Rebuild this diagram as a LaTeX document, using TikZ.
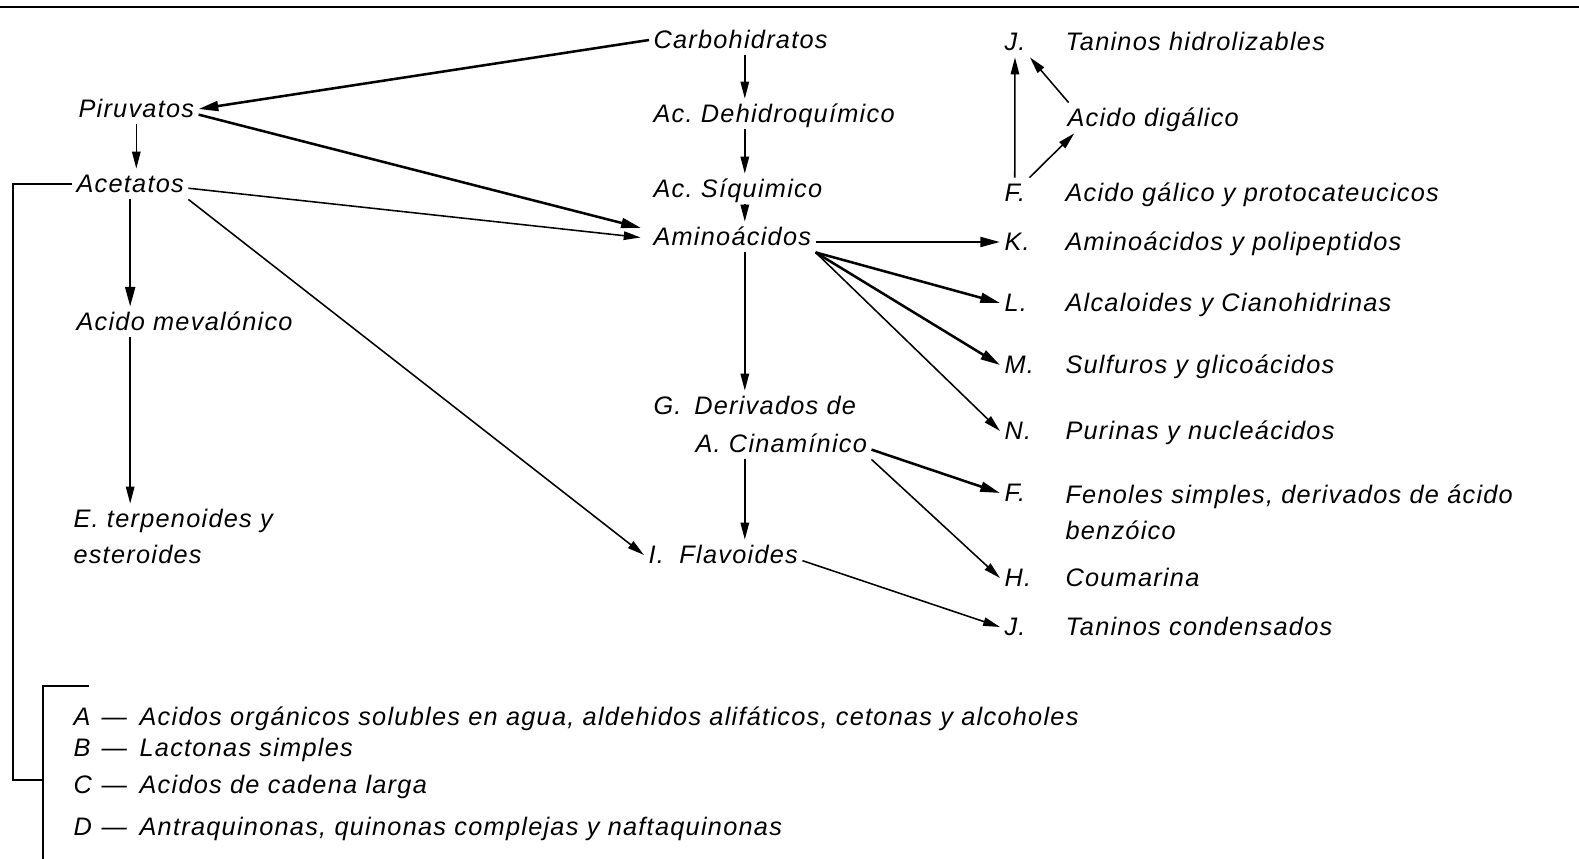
\documentclass[tikz,border=0pt]{standalone}
\usepackage{fontspec}
\setmainfont{Liberation Sans}[LetterSpace=5]
\usetikzlibrary{positioning,arrows.meta}
\tikzset{
  flowarrow/.style={-{Triangle[length=14pt,width=7pt]}, line width=1.8pt},
  thinarrow/.style={-{Triangle[length=12pt,width=6pt]}, line width=1.1pt},
  compnode/.style={anchor=west, inner xsep=3pt, inner ysep=2pt, text height=14.5pt, text depth=3pt},
  letternode/.style={compnode},
  bracketline/.style={line width=1.4pt}
}

\begin{document}
\begin{tikzpicture}[x=0.025cm, y=-0.025cm, every node/.style={font=\fontsize{18}{21}\selectfont\itshape}]
  \useasboundingbox (0,0) rectangle (1579,859);
  \coordinate (ruleL) at (0,7);
  \coordinate (ruleR) at (1579,7);
  \draw[line width=1.5pt] (ruleL) -- (ruleR);

  % left column
  \node[compnode] (carb) at (649,40) {Carbohidratos};
  \node[compnode] (piru) at (74,109) {Piruvatos};
  \node[compnode] (acet) at (72,184) {Acetatos};
  \node[compnode] (mev) at (72,322) {Acido mevalónico};
  \node[compnode] (terp) at (69,519) {E.\ terpenoides y};
  \node[compnode] (ester) at (69,555) {esteroides};

  % middle column
  \node[compnode] (dehi) at (649,114) {Ac.\ Dehidroquímico};
  \node[compnode] (siqu) at (649,189) {Ac.\ Síquimico};
  \node[compnode] (amin) at (649,237) {Aminoácidos};
  \node[compnode] (deriv) at (649,406) {\makebox[29pt][l]{G.}Derivados de};
  \node[compnode] (cina) at (691,444) {A.\ Cinamínico};
  \node[compnode] (flav) at (644,555) {\makebox[22pt][l]{I.}Flavoides};
  \coordinate (midcol) at ([xshift=3pt]carb.south);

  % right column, letters
  \node[letternode] (jJa) at (1000,42) {J.};
  \node[letternode] (fFa) at (1000,193) {F.};
  \node[letternode] (kK) at (1000,242) {K.};
  \node[letternode] (lL) at (1000,303) {L.};
  \node[letternode] (mM) at (1000,365) {M.};
  \node[letternode] (nN) at (1000,431) {N.};
  \node[letternode] (fFb) at (1000,493) {F.};
  \node[letternode] (hH) at (1000,578) {H.};
  \node[letternode] (jJb) at (1000,627) {J.};

  % right column, texts
  \node[compnode] (tanh) at (1061,42) {Taninos hidrolizables};
  \node[compnode] (digal) at (1063,118) {Acido digálico};
  \node[compnode] (galic) at (1061,193) {Acido gálico y protocateucicos};
  \node[compnode] (amipol) at (1061,242) {Aminoácidos y polipeptidos};
  \node[compnode] (alcal) at (1061,303) {Alcaloides y Cianohidrinas};
  \node[compnode] (sulf) at (1061,365) {Sulfuros y glicoácidos};
  \node[compnode] (purin) at (1061,431) {Purinas y nucleácidos};
  \node[compnode] (fenol) at (1061,495) {Fenoles simples, derivados de ácido};
  \node[compnode] (benz) at (1061,531) {benzóico};
  \node[compnode] (couma) at (1061,578) {Coumarina};
  \node[compnode] (tanc) at (1061,627) {Taninos condensados};

  % legend
  \node[compnode] (legA) at (69,717) {\makebox[20pt][l]{A}---\hspace{9pt}Acidos orgánicos solubles en agua, aldehidos alifáticos, cetonas y alcoholes};
  \node[compnode] (legB) at (69,748) {\makebox[20pt][l]{B}---\hspace{9pt}Lactonas simples};
  \node[compnode] (legC) at (69,785) {\makebox[20pt][l]{C}---\hspace{9pt}Acidos de cadena larga};
  \node[compnode] (legD) at (69,827) {\makebox[20pt][l]{D}---\hspace{9pt}Antraquinonas, quinonas complejas y naftaquinonas};

  \coordinate (brkTop) at (43,686);
  \coordinate (brkTick) at (89,686);
  \coordinate (brkEnd) at (43,859);
  \coordinate (brkJoin) at (43,780);
  \coordinate (brkOut) at (13,780);
  \draw[bracketline] (brkTick) -- (brkTop) -- (brkEnd);
  \draw[bracketline] (acet.west) -| (brkOut) -- (brkJoin);

  % arrows
  \draw[flowarrow] (carb.west) -- (piru.east);
  \draw[flowarrow, shorten >=6pt] ([yshift=-4pt]piru.east) -- ([yshift=5pt]amin.west);
  \draw[thinarrow, shorten >=6pt] ([yshift=-3pt]acet.east) -- ([yshift=-1pt]amin.west);
  \draw[thinarrow] (acet.south east) -- (flav.west);
  \draw[thinarrow] (piru.south) -- (piru.south |- acet.north);
  \draw[flowarrow] (acet.south) -- (acet.south |- mev.north);
  \draw[thinarrow] (acet.south |- mev.south) -- (acet.south |- terp.north);
  \draw[thinarrow] (midcol) -- (midcol |- dehi.north);
  \draw[thinarrow] (midcol |- dehi.south) -- (midcol |- siqu.north);
  \draw[thinarrow] (midcol |- siqu.south) -- (midcol |- amin.north);
  \draw[thinarrow] (midcol |- amin.south) -- (midcol |- deriv.north);
  \draw[thinarrow] (midcol |- cina.south) -- (midcol |- flav.north);
  \draw[flowarrow] (amin.east |- kK.west) -- (kK.west);
  \draw[flowarrow] (amin.south east) -- (lL.west);
  \draw[flowarrow] (amin.south east) -- (mM.west);
  \draw[thinarrow] (amin.south east) -- (nN.west);
  \draw[flowarrow] ([yshift=-4pt]cina.east) -- (fFb.west);
  \draw[thinarrow] (cina.south east) -- (hH.west);
  \draw[thinarrow] ([yshift=-4pt]flav.east) -- (jJb.west);
  \draw[thinarrow] (fFa.north) -- (jJa.south);
  \draw[thinarrow] (fFa.north east) -- ([xshift=8pt]digal.south west);
  \draw[thinarrow] ([xshift=4pt]digal.north west) -- (jJa.south east);
\end{tikzpicture}
\end{document}
